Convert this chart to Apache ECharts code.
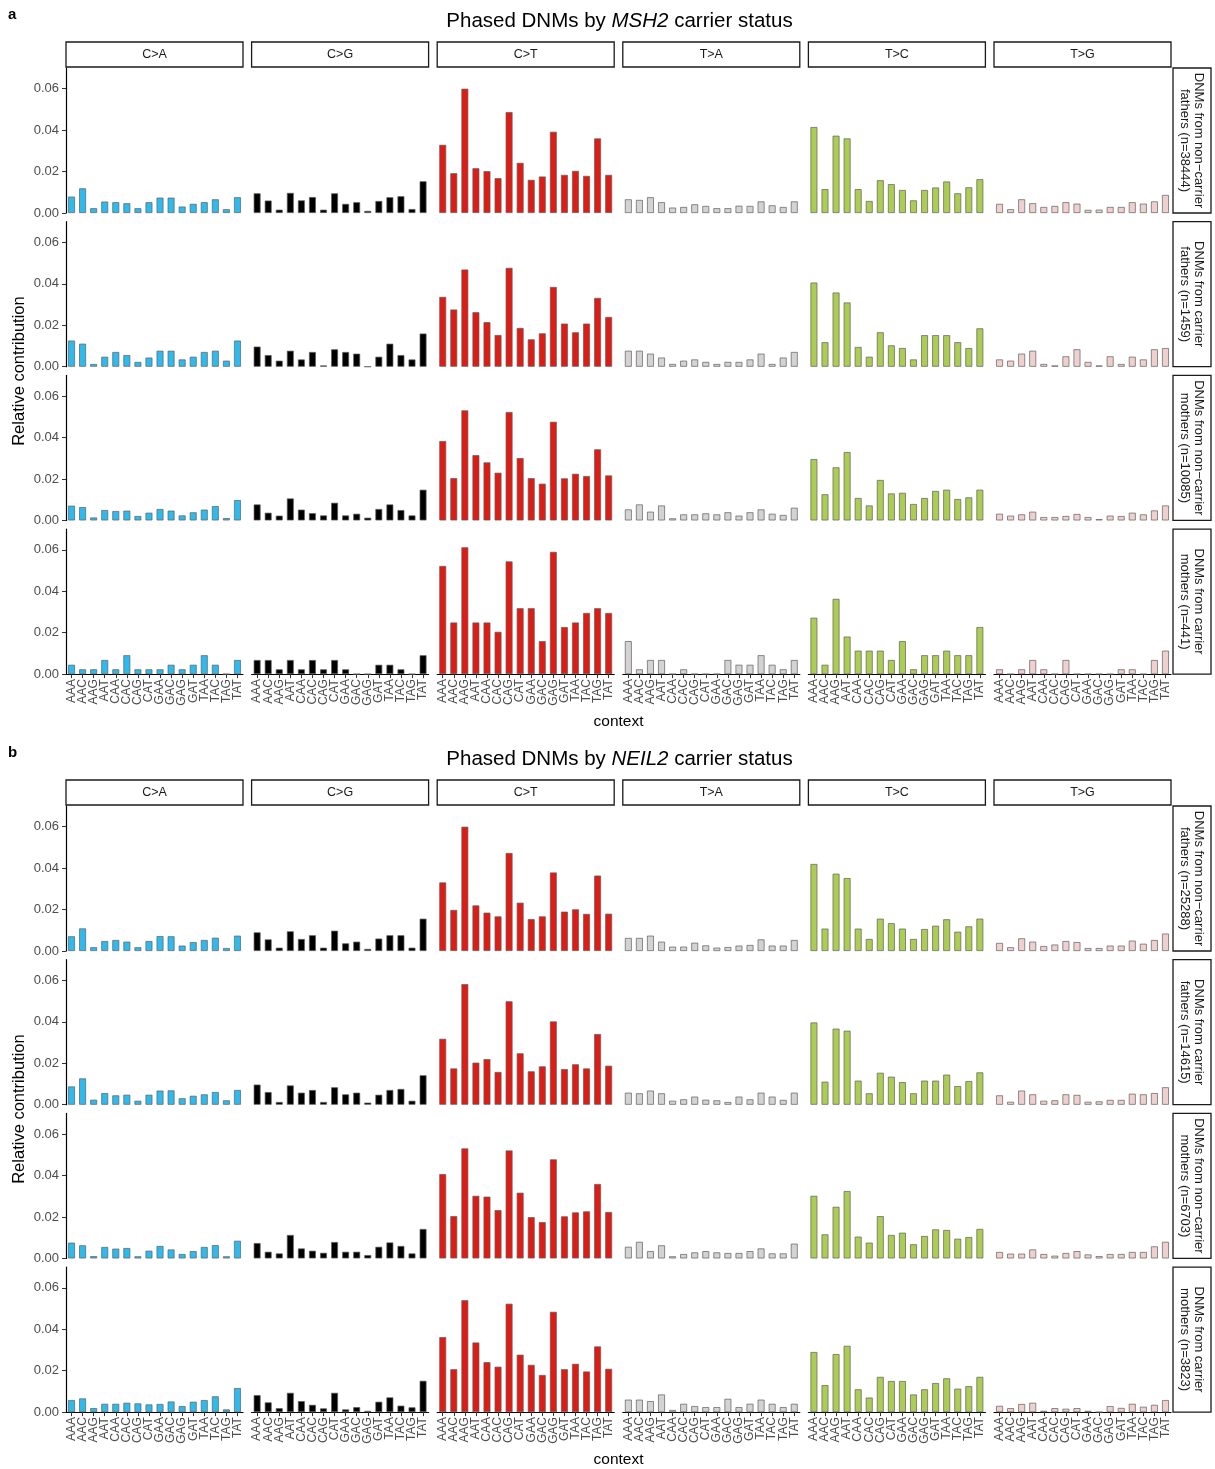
<!DOCTYPE html>
<html>
<head>
<meta charset="utf-8">
<title>Phased DNMs by carrier status</title>
<script src="https://cdn.jsdelivr.net/npm/echarts@6/dist/echarts.min.js"></script>
<style>
  html, body { margin: 0; padding: 0; background: #fff; }
  #chart { width: 1215px; height: 1469px; }
</style>
</head>
<body>
<div id="chart"></div>
<script>
// Trinucleotide contexts on each facet's x axis
const contexts = ['AAA','AAC','AAG','AAT','CAA','CAC','CAG','CAT','GAA','GAC','GAG','GAT','TAA','TAC','TAG','TAT'];
// Mutation classes (facet columns) and their fill colours
const mutationTypes = ['C>A','C>G','C>T','T>A','T>C','T>G'];
const typeColors = ['#2EBAED','#000000','#DE1C14','#D4D2D2','#ADCC54','#F0D0CE'];
// Y tick values
const yTicks = [0, 0.02, 0.04, 0.06];

// ---- Panel a: MSH2 ----
// each row: 6 mutation types x 16 contexts (C>A, C>G, C>T, T>A, T>C, T>G)
const msh2NonCarrierFathers = [
  0.0079,0.0119,0.0023,0.0055,0.0052,0.0047,0.0023,0.0052,0.0074,0.0074,0.0031,0.0044,0.0052,0.0066,0.0018,0.0076,
  0.0095,0.0060,0.0016,0.0097,0.0061,0.0077,0.0016,0.0095,0.0044,0.0052,0.0010,0.0058,0.0076,0.0081,0.0019,0.0153,
  0.0329,0.0192,0.0600,0.0216,0.0202,0.0168,0.0487,0.0242,0.0160,0.0176,0.0392,0.0184,0.0203,0.0179,0.0360,0.0184,
  0.0066,0.0063,0.0076,0.0052,0.0026,0.0029,0.0042,0.0034,0.0023,0.0023,0.0035,0.0034,0.0056,0.0037,0.0029,0.0056,
  0.0415,0.0115,0.0373,0.0360,0.0115,0.0058,0.0158,0.0139,0.0111,0.0061,0.0111,0.0123,0.0152,0.0095,0.0124,0.0163,
  0.0044,0.0018,0.0066,0.0047,0.0029,0.0034,0.0052,0.0045,0.0015,0.0016,0.0029,0.0029,0.0052,0.0045,0.0056,0.0087
];
const msh2CarrierFathers = [
  0.0126,0.0111,0.0013,0.0048,0.0071,0.0056,0.0023,0.0044,0.0077,0.0077,0.0035,0.0048,0.0071,0.0077,0.0029,0.0126,
  0.0097,0.0056,0.0029,0.0077,0.0035,0.0071,0.0006,0.0084,0.0071,0.0063,0.0000,0.0048,0.0111,0.0056,0.0035,0.0160,
  0.0337,0.0276,0.0469,0.0263,0.0215,0.0153,0.0477,0.0187,0.0132,0.0161,0.0385,0.0208,0.0166,0.0208,0.0332,0.0240,
  0.0077,0.0077,0.0063,0.0044,0.0013,0.0029,0.0035,0.0023,0.0013,0.0023,0.0023,0.0035,0.0063,0.0013,0.0044,0.0071,
  0.0406,0.0118,0.0358,0.0310,0.0095,0.0048,0.0166,0.0103,0.0090,0.0035,0.0152,0.0152,0.0152,0.0118,0.0090,0.0185,
  0.0035,0.0029,0.0063,0.0077,0.0013,0.0006,0.0050,0.0084,0.0023,0.0006,0.0050,0.0013,0.0048,0.0035,0.0084,0.0090
];
const msh2NonCarrierMothers = [
  0.0071,0.0064,0.0014,0.0050,0.0045,0.0047,0.0021,0.0037,0.0055,0.0047,0.0024,0.0039,0.0052,0.0069,0.0011,0.0098,
  0.0077,0.0037,0.0023,0.0106,0.0052,0.0035,0.0024,0.0085,0.0024,0.0032,0.0013,0.0055,0.0077,0.0050,0.0024,0.0148,
  0.0383,0.0204,0.0531,0.0315,0.0280,0.0230,0.0523,0.0301,0.0204,0.0177,0.0476,0.0203,0.0225,0.0214,0.0343,0.0217,
  0.0053,0.0077,0.0042,0.0072,0.0010,0.0029,0.0029,0.0034,0.0029,0.0039,0.0023,0.0039,0.0053,0.0032,0.0026,0.0061,
  0.0296,0.0126,0.0256,0.0330,0.0108,0.0072,0.0195,0.0130,0.0133,0.0079,0.0108,0.0142,0.0148,0.0103,0.0111,0.0148,
  0.0032,0.0023,0.0029,0.0042,0.0016,0.0016,0.0021,0.0031,0.0016,0.0006,0.0023,0.0021,0.0037,0.0029,0.0048,0.0072
];
const msh2CarrierMothers = [
  0.0045,0.0023,0.0023,0.0068,0.0023,0.0091,0.0023,0.0023,0.0023,0.0045,0.0023,0.0045,0.0091,0.0045,0.0000,0.0068,
  0.0068,0.0068,0.0023,0.0068,0.0023,0.0068,0.0023,0.0068,0.0023,0.0000,0.0000,0.0045,0.0045,0.0023,0.0000,0.0091,
  0.0522,0.0249,0.0612,0.0249,0.0249,0.0204,0.0544,0.0318,0.0318,0.0159,0.0590,0.0227,0.0249,0.0295,0.0318,0.0295,
  0.0159,0.0023,0.0068,0.0068,0.0000,0.0023,0.0000,0.0000,0.0000,0.0068,0.0045,0.0045,0.0091,0.0045,0.0023,0.0068,
  0.0272,0.0045,0.0363,0.0181,0.0113,0.0113,0.0113,0.0068,0.0159,0.0023,0.0091,0.0091,0.0113,0.0091,0.0091,0.0227,
  0.0023,0.0000,0.0023,0.0068,0.0023,0.0000,0.0068,0.0000,0.0000,0.0000,0.0000,0.0023,0.0023,0.0000,0.0068,0.0113
];

// ---- Panel b: NEIL2 ----
const neil2NonCarrierFathers = [
  0.0071,0.0109,0.0018,0.0048,0.0053,0.0045,0.0018,0.0048,0.0072,0.0071,0.0026,0.0043,0.0053,0.0064,0.0014,0.0074,
  0.0090,0.0056,0.0016,0.0095,0.0058,0.0076,0.0016,0.0098,0.0037,0.0045,0.0010,0.0060,0.0076,0.0076,0.0016,0.0156,
  0.0331,0.0198,0.0600,0.0220,0.0185,0.0167,0.0473,0.0233,0.0154,0.0167,0.0379,0.0190,0.0201,0.0179,0.0364,0.0180,
  0.0063,0.0063,0.0074,0.0045,0.0021,0.0021,0.0040,0.0027,0.0016,0.0019,0.0026,0.0029,0.0056,0.0026,0.0026,0.0053,
  0.0420,0.0108,0.0373,0.0352,0.0108,0.0058,0.0156,0.0134,0.0108,0.0058,0.0106,0.0122,0.0153,0.0093,0.0119,0.0156,
  0.0039,0.0018,0.0061,0.0045,0.0024,0.0031,0.0048,0.0043,0.0014,0.0014,0.0026,0.0026,0.0050,0.0035,0.0053,0.0084
];
const neil2CarrierFathers = [
  0.0088,0.0127,0.0024,0.0056,0.0045,0.0048,0.0019,0.0048,0.0068,0.0069,0.0031,0.0043,0.0050,0.0061,0.0021,0.0071,
  0.0097,0.0061,0.0013,0.0093,0.0058,0.0071,0.0013,0.0084,0.0050,0.0058,0.0010,0.0048,0.0071,0.0076,0.0019,0.0142,
  0.0318,0.0175,0.0582,0.0203,0.0220,0.0158,0.0499,0.0248,0.0161,0.0185,0.0402,0.0172,0.0195,0.0175,0.0341,0.0188,
  0.0058,0.0055,0.0068,0.0055,0.0019,0.0026,0.0039,0.0024,0.0021,0.0013,0.0039,0.0026,0.0058,0.0039,0.0023,0.0058,
  0.0397,0.0111,0.0367,0.0357,0.0116,0.0055,0.0154,0.0135,0.0109,0.0055,0.0116,0.0116,0.0145,0.0090,0.0114,0.0156,
  0.0045,0.0014,0.0068,0.0050,0.0019,0.0021,0.0050,0.0047,0.0014,0.0016,0.0023,0.0023,0.0053,0.0050,0.0056,0.0084
];
const neil2NonCarrierMothers = [
  0.0076,0.0063,0.0011,0.0055,0.0047,0.0050,0.0010,0.0037,0.0060,0.0043,0.0021,0.0035,0.0055,0.0064,0.0010,0.0085,
  0.0074,0.0032,0.0024,0.0113,0.0048,0.0037,0.0027,0.0079,0.0032,0.0032,0.0016,0.0056,0.0077,0.0060,0.0024,0.0142,
  0.0407,0.0204,0.0531,0.0302,0.0298,0.0233,0.0521,0.0317,0.0199,0.0175,0.0478,0.0203,0.0222,0.0227,0.0359,0.0224,
  0.0056,0.0080,0.0035,0.0063,0.0010,0.0021,0.0029,0.0035,0.0029,0.0026,0.0026,0.0035,0.0048,0.0024,0.0024,0.0071,
  0.0302,0.0116,0.0249,0.0325,0.0105,0.0076,0.0204,0.0113,0.0124,0.0068,0.0108,0.0140,0.0137,0.0095,0.0103,0.0142,
  0.0031,0.0023,0.0023,0.0043,0.0021,0.0013,0.0026,0.0035,0.0019,0.0011,0.0021,0.0021,0.0031,0.0031,0.0058,0.0080
];
const neil2CarrierMothers = [
  0.0058,0.0066,0.0019,0.0040,0.0040,0.0045,0.0042,0.0037,0.0039,0.0051,0.0029,0.0050,0.0058,0.0076,0.0013,0.0116,
  0.0082,0.0047,0.0019,0.0093,0.0053,0.0035,0.0018,0.0093,0.0013,0.0024,0.0006,0.0050,0.0071,0.0031,0.0023,0.0151,
  0.0362,0.0207,0.0540,0.0336,0.0241,0.0219,0.0523,0.0277,0.0228,0.0179,0.0484,0.0207,0.0233,0.0196,0.0317,0.0209,
  0.0060,0.0060,0.0053,0.0085,0.0010,0.0040,0.0029,0.0024,0.0024,0.0064,0.0024,0.0040,0.0060,0.0040,0.0024,0.0040,
  0.0290,0.0130,0.0280,0.0320,0.0110,0.0070,0.0170,0.0150,0.0150,0.0085,0.0110,0.0140,0.0163,0.0113,0.0125,0.0170,
  0.0030,0.0019,0.0039,0.0045,0.0006,0.0019,0.0016,0.0019,0.0006,0.0000,0.0029,0.0020,0.0040,0.0026,0.0035,0.0058
];

// Row strip labels
const msh2RowLabels = [
  'DNMs from non\u2212carrier\nfathers (n=38444)',
  'DNMs from carrier\nfathers (n=1459)',
  'DNMs from non\u2212carrier\nmothers (n=10085)',
  'DNMs from carrier\nmothers (n=441)'
];
const neil2RowLabels = [
  'DNMs from non\u2212carrier\nfathers (n=25288)',
  'DNMs from carrier\nfathers (n=14615)',
  'DNMs from non\u2212carrier\nmothers (n=6703)',
  'DNMs from carrier\nmothers (n=3823)'
];

const panels = [
  { tag: 'a', gene: 'MSH2', offset: 0,
    rows: [msh2NonCarrierFathers, msh2CarrierFathers, msh2NonCarrierMothers, msh2CarrierMothers],
    labels: msh2RowLabels },
  { tag: 'b', gene: 'NEIL2', offset: 738,
    rows: [neil2NonCarrierFathers, neil2CarrierFathers, neil2NonCarrierMothers, neil2CarrierMothers],
    labels: neil2RowLabels }
];

// ---- layout (px) ----
const FONT = '"Liberation Sans", Arial, Helvetica, sans-serif';
const COL_LEFT = 66, COL_PITCH = 185.6, COL_W = 177;
const ROW_BOTTOM0 = 213, ROW_PITCH = 153.7, ROW_H = 145;
const STRIP_TOP = 42, STRIP_H = 25;
const RSTRIP_X = 1173, RSTRIP_W = 38;
const Y_MAX = 0.07;
const PLOT_MID_X = (COL_LEFT + 5 * COL_PITCH + COL_W + COL_LEFT) / 2;

const grids = [], xAxes = [], yAxes = [], series = [], graphics = [], titles = [];

panels.forEach(function (p) {
  const off = p.offset;
  // panel heading with italic gene name
  titles.push({
    text: '{n|Phased DNMs by }{i|' + p.gene + '}{n| carrier status}',
    left: PLOT_MID_X - 4, top: 6 + off, textAlign: 'center',
    textStyle: {
      fontWeight: 'normal',
      rich: {
        n: { fontFamily: FONT, fontSize: 20.5, color: '#000', fontWeight: 'normal' },
        i: { fontFamily: FONT, fontSize: 20.5, color: '#000', fontWeight: 'normal', fontStyle: 'italic' }
      }
    }
  });
  graphics.push({
    type: 'text', x: 8, y: 7 + off,
    style: { text: p.tag, font: 'bold 15px ' + FONT, fill: '#000' }
  });
  // column strips
  mutationTypes.forEach(function (mt, c) {
    const x = COL_LEFT + c * COL_PITCH;
    graphics.push({
      type: 'rect', shape: { x: x, y: STRIP_TOP + off, width: COL_W, height: STRIP_H },
      style: { fill: '#fff', stroke: '#1a1a1a', lineWidth: 1.3 }
    });
    graphics.push({
      type: 'text', x: x + COL_W / 2, y: STRIP_TOP + off + STRIP_H / 2,
      style: { text: mt, font: '12.5px ' + FONT, fill: '#1a1a1a',
               textAlign: 'center', textVerticalAlign: 'middle', align: 'center', verticalAlign: 'middle' }
    });
  });
  // rows
  p.rows.forEach(function (rowValues, r) {
    const bottom = ROW_BOTTOM0 + r * ROW_PITCH + off;
    const top = bottom - ROW_H;
    const isBottom = r === p.rows.length - 1;
    // row strip on the right
    graphics.push({
      type: 'rect', shape: { x: RSTRIP_X, y: top, width: RSTRIP_W, height: ROW_H },
      style: { fill: '#fff', stroke: '#1a1a1a', lineWidth: 1.3 }
    });
    graphics.push({
      type: 'text', x: RSTRIP_X + RSTRIP_W / 2, y: top + ROW_H / 2, rotation: -Math.PI / 2,
      style: { text: p.labels[r], font: '13px ' + FONT, fill: '#1a1a1a', lineHeight: 14,
               textAlign: 'center', textVerticalAlign: 'middle', align: 'center', verticalAlign: 'middle' }
    });
    mutationTypes.forEach(function (mt, c) {
      const idx = grids.length;
      const isLeft = c === 0;
      grids.push({ left: COL_LEFT + c * COL_PITCH, top: top, width: COL_W, height: ROW_H, containLabel: false });
      xAxes.push({
        type: 'category', gridIndex: idx, data: contexts, boundaryGap: true,
        axisLine: { show: isBottom, lineStyle: { color: '#000', width: 1.2 } },
        axisTick: { show: isBottom, alignWithLabel: true, length: 4, lineStyle: { color: '#333', width: 1 } },
        axisLabel: { show: isBottom, rotate: 90, interval: 0, margin: 5, fontFamily: FONT, fontSize: 12, color: '#4d4d4d' },
        splitLine: { show: false }
      });
      yAxes.push({
        type: 'value', gridIndex: idx, min: 0, max: Y_MAX, interval: 0.02,
        axisLine: { show: isLeft, lineStyle: { color: '#000', width: 1.2 } },
        axisTick: { show: isLeft, length: 4, customValues: yTicks, lineStyle: { color: '#333', width: 1 } },
        axisLabel: { show: isLeft, customValues: yTicks, margin: 7, fontFamily: FONT, fontSize: 13, color: '#4d4d4d',
                     formatter: function (v) { return v.toFixed(2); } },
        splitLine: { show: false }
      });
      series.push({
        type: 'bar', xAxisIndex: idx, yAxisIndex: idx, silent: true,
        data: rowValues.slice(c * contexts.length, (c + 1) * contexts.length),
        barWidth: '62%',
        itemStyle: { color: typeColors[c], borderColor: '#5e5e5e', borderWidth: 0.7 }
      });
    });
  });
  // axis titles
  const firstTop = ROW_BOTTOM0 + off - ROW_H;
  const lastBottom = ROW_BOTTOM0 + 3 * ROW_PITCH + off;
  graphics.push({
    type: 'text', x: 19, y: (firstTop + lastBottom) / 2, rotation: Math.PI / 2,
    style: { text: 'Relative contribution', font: '16.5px ' + FONT, fill: '#000',
             textAlign: 'center', textVerticalAlign: 'middle', align: 'center', verticalAlign: 'middle' }
  });
  graphics.push({
    type: 'text', x: PLOT_MID_X, y: lastBottom + 48,
    style: { text: 'context', font: '15.5px ' + FONT, fill: '#000',
             textAlign: 'center', textVerticalAlign: 'middle', align: 'center', verticalAlign: 'middle' }
  });
});

const chart = echarts.init(document.getElementById('chart'), null, { renderer: 'canvas' });
chart.setOption({
  animation: false,
  backgroundColor: '#fff',
  title: titles,
  grid: grids,
  xAxis: xAxes,
  yAxis: yAxes,
  series: series,
  graphic: { elements: graphics }
});
</script>
</body>
</html>
